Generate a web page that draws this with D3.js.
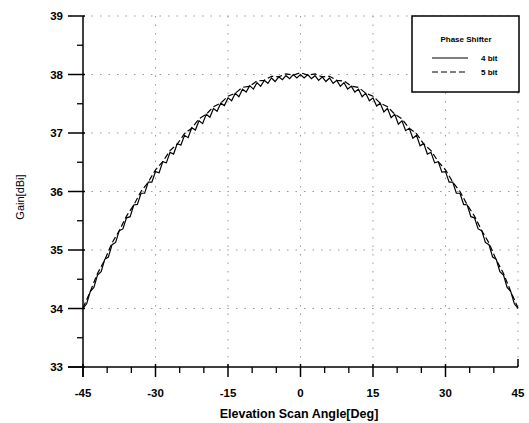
<!DOCTYPE html>
<html>
<head>
<meta charset="utf-8">
<script src="https://cdn.jsdelivr.net/npm/d3@7"></script>
<style>
  body { margin: 0; background: #fff; }
  text { font-family: "Liberation Sans", Arial, sans-serif; fill: #000; }
</style>
</head>
<body>
<div id="chart"></div>
<script>
// 4 bit phase shifter, sampled every 0.75 deg from -45 to 45
const angles4 = d3.range(-45, 45.001, 0.75);
const gain4 = [
  34.00, 34.08, 34.29, 34.36, 34.57, 34.63, 34.84, 34.88, 35.09, 35.13,
  35.33, 35.36, 35.55, 35.57, 35.77, 35.78, 35.97, 35.97, 36.16, 36.16,
  36.34, 36.32, 36.51, 36.49, 36.67, 36.64, 36.82, 36.79, 36.96, 36.92,
  37.09, 37.05, 37.21, 37.16, 37.32, 37.27, 37.42, 37.37, 37.51, 37.47,
  37.60, 37.55, 37.68, 37.62, 37.75, 37.70, 37.81, 37.75, 37.86, 37.80,
  37.90, 37.85, 37.94, 37.88, 37.96, 37.91, 37.98, 37.93, 38.00, 37.94,
  38.00,
  37.94, 38.00, 37.93, 37.98, 37.90, 37.96, 37.88, 37.94, 37.85, 37.90,
  37.80, 37.86, 37.75, 37.80, 37.70, 37.75, 37.62, 37.68, 37.55, 37.60,
  37.46, 37.51, 37.36, 37.42, 37.26, 37.32, 37.15, 37.21, 37.04, 37.08,
  36.91, 36.96, 36.78, 36.82, 36.64, 36.67, 36.49, 36.51, 36.33, 36.34,
  36.16, 36.16, 35.97, 35.97, 35.78, 35.77, 35.57, 35.55, 35.36, 35.33,
  35.13, 35.09, 34.88, 34.84, 34.63, 34.57, 34.36, 34.29, 34.08, 34.00
];

// 5 bit phase shifter, sampled every 1.5 deg
const angles5 = d3.range(-45, 45.001, 1.5);
const gain5 = [
  34.01, 34.29, 34.60, 34.83, 35.12, 35.33, 35.58, 35.77, 36.00, 36.16,
  36.37, 36.51, 36.70, 36.81, 36.99, 37.08, 37.24, 37.32, 37.45, 37.51,
  37.63, 37.68, 37.78, 37.80, 37.89, 37.90, 37.97, 37.96, 38.01, 37.99,
  38.03,
  37.99, 38.01, 37.96, 37.97, 37.90, 37.89, 37.80, 37.78, 37.68, 37.63,
  37.51, 37.45, 37.32, 37.24, 37.08, 36.99, 36.81, 36.70, 36.51, 36.37,
  36.16, 36.00, 35.77, 35.58, 35.33, 35.12, 34.83, 34.60, 34.29, 34.01
];

const xTicks = [-45, -30, -15, 0, 15, 30, 45];
const yTicks = [33, 34, 35, 36, 37, 38, 39];
const legendTitle = "Phase Shifter";
const seriesNames = ["4 bit", "5 bit"];

const width = 529, height = 423;

const x = d3.scaleLinear().domain([-45, 45]).range([83, 518]);
const y = d3.scaleLinear().domain([33, 39]).range([367, 16]);

const svg = d3.select("#chart")
  .append("svg")
  .attr("width", width)
  .attr("height", height);

// sparse dotted grid
svg.append("g")
  .selectAll("line")
  .data(xTicks.slice(1))
  .enter()
  .append("line")
  .attr("x1", d => x(d)).attr("x2", d => x(d))
  .attr("y1", y(39)).attr("y2", y(33))
  .attr("stroke", "#999")
  .attr("stroke-width", 1)
  .attr("stroke-dasharray", "1.5,7");

svg.append("g")
  .selectAll("line")
  .data(yTicks.slice(1))
  .enter()
  .append("line")
  .attr("x1", x(-45)).attr("x2", x(45))
  .attr("y1", d => y(d)).attr("y2", d => y(d))
  .attr("stroke", "#999")
  .attr("stroke-width", 1)
  .attr("stroke-dasharray", "1.5,7");

// axes, ticks cross the axis line like the original
const xAxis = svg.append("g").attr("transform", `translate(0,${y(33)})`);
xAxis.append("line")
  .attr("x1", 68).attr("x2", x(45))
  .attr("stroke", "#000").attr("stroke-width", 1.5);
xAxis.selectAll(".minor")
  .data(d3.range(-40, 45, 5).filter(d => d % 15 !== 0))
  .enter()
  .append("line")
  .attr("x1", d => x(d)).attr("x2", d => x(d))
  .attr("y1", 0).attr("y2", 6)
  .attr("stroke", "#000").attr("stroke-width", 1.3);
xAxis.selectAll(".major")
  .data(xTicks)
  .enter()
  .append("line")
  .attr("x1", d => x(d)).attr("x2", d => x(d))
  .attr("y1", d => (d === 45 ? -8 : -3)).attr("y2", d => (d === 45 ? 0 : 10))
  .attr("stroke", "#000").attr("stroke-width", 1.5);
xAxis.selectAll("text")
  .data(xTicks)
  .enter()
  .append("text")
  .attr("x", d => x(d))
  .attr("y", 30)
  .attr("text-anchor", "middle")
  .style("font-size", "11.5px")
  .style("font-weight", "bold")
  .text(d => d);

const yAxis = svg.append("g").attr("transform", `translate(${x(-45)},0)`);
yAxis.append("line")
  .attr("y1", y(39)).attr("y2", 377)
  .attr("stroke", "#000").attr("stroke-width", 1.5);
yAxis.selectAll(".minor")
  .data(d3.range(33.5, 39, 1))
  .enter()
  .append("line")
  .attr("x1", -6).attr("x2", 0)
  .attr("y1", d => y(d)).attr("y2", d => y(d))
  .attr("stroke", "#000").attr("stroke-width", 1.3);
yAxis.selectAll(".major")
  .data(yTicks)
  .enter()
  .append("line")
  .attr("x1", -15).attr("x2", 2)
  .attr("y1", d => y(d)).attr("y2", d => y(d))
  .attr("stroke", "#000").attr("stroke-width", 1.5);
yAxis.selectAll("text")
  .data(yTicks)
  .enter()
  .append("text")
  .attr("x", -20)
  .attr("y", d => y(d) + 4)
  .attr("text-anchor", "end")
  .style("font-size", "11.5px")
  .style("font-weight", "bold")
  .text(d => d);

// axis titles
svg.append("text")
  .attr("x", 299)
  .attr("y", 418)
  .attr("text-anchor", "middle")
  .style("font-size", "12.5px")
  .style("font-weight", "bold")
  .text("Elevation Scan Angle[Deg]");

svg.append("text")
  .attr("transform", "translate(24,197) rotate(-90)")
  .attr("text-anchor", "middle")
  .style("font-size", "11px")
  .text("Gain[dBi]");

// curves
const line = d3.line().x(d => x(d[0])).y(d => y(d[1]));

svg.append("path")
  .datum(d3.zip(angles5, gain5))
  .attr("d", line)
  .attr("fill", "none")
  .attr("stroke", "#000")
  .attr("stroke-width", 1.2)
  .attr("stroke-dasharray", "6,3");

svg.append("path")
  .datum(d3.zip(angles4, gain4))
  .attr("d", line)
  .attr("fill", "none")
  .attr("stroke", "#000")
  .attr("stroke-width", 1.2);

// legend
const legend = svg.append("g");
legend.append("rect")
  .attr("x", 412).attr("y", 16)
  .attr("width", 107).attr("height", 76)
  .attr("fill", "#fff")
  .attr("stroke", "#000")
  .attr("stroke-width", 1.5);
legend.append("text")
  .attr("x", 466).attr("y", 42)
  .attr("text-anchor", "middle")
  .style("font-size", "8px")
  .style("font-weight", "bold")
  .text(legendTitle);
seriesNames.forEach(function (name, i) {
  const ly = 58 + i * 14;
  legend.append("line")
    .attr("x1", 432).attr("x2", 468)
    .attr("y1", ly).attr("y2", ly)
    .attr("stroke", "#000")
    .attr("stroke-width", 1)
    .attr("stroke-dasharray", i === 1 ? "6,3" : null);
  legend.append("text")
    .attr("x", 481).attr("y", ly + 3)
    .style("font-size", "8px")
    .style("font-weight", "bold")
    .text(name);
});
</script>
</body>
</html>
